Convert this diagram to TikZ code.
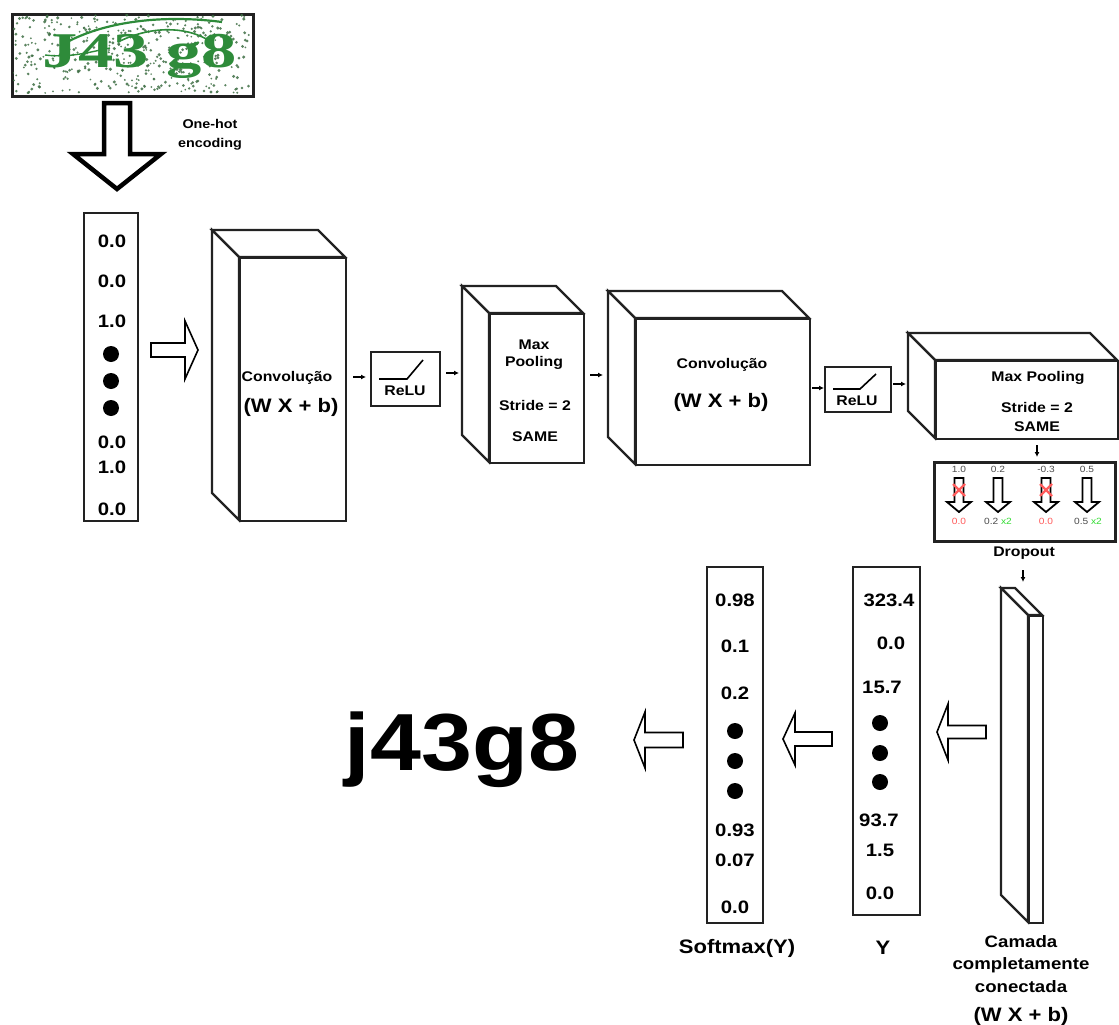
\documentclass[tikz,border=0pt]{standalone}
\usepackage{fontspec}
\setmainfont{Liberation Sans}[FakeStretch=1.13]
\newfontfamily\capfont{Liberation Serif}[FakeStretch=1.13]
\usetikzlibrary{arrows.meta,calc}
\definecolor{capgreen}{HTML}{2E8B3A}
\definecolor{capdot}{HTML}{3F6F45}
\definecolor{dred}{HTML}{FF5C5C}
\definecolor{dgreen}{HTML}{33DD33}
\definecolor{frame}{HTML}{222222}

% cuboid: name, x1, y1 (front top-left), x2, y2 (front bottom-right), depth
\newcommand\cub[6]{%
  \draw[box] (#2-#6,#3-#6) -- (#4-#6,#3-#6) -- (#4,#3) -- (#2,#3) -- cycle;
  \draw[box] (#2-#6,#3-#6) -- (#2,#3) -- (#2,#5) -- (#2-#6,#5-#6) -- cycle;
  \node[box, anchor=north west, inner sep=0, minimum width={#4-#2}, minimum height={#5-#3}] (#1) at (#2,#3) {};
}
% hollow arrow: [style] tipx, tipy, rotation, total length, head length, head half width, shaft half width
\newcommand\harrow[8][]{%
  \begin{scope}[shift={(#2,#3)}, rotate=#4]
    \draw[hollow,#1] (0,0) -- (-#6,#7) -- (-#6,#8) -- (-#5,#8) -- (-#5,-#8) -- (-#6,-#8) -- (-#6,-#7) -- cycle;
  \end{scope}}

\begin{document}
\begin{tikzpicture}[x=1pt,y=-1pt, line join=miter,
  box/.style={draw=frame, line width=2.2pt, fill=white},
  fs/.style={font=\bfseries\fontsize{#1}{#1}\selectfont},
  val/.style={fs=18, inner sep=0},
  lbl/.style={fs=14, inner sep=0, align=center},
  vecbox/.style={draw=frame, line width=2.4pt, fill=white, inner sep=0},
  smallarr/.style={-{Latex[length=5pt,width=5pt]}, line width=1.6pt},
  hollow/.style={draw=black, line width=1.6pt, fill=white},
  dot/.style={circle, fill=black, minimum size=16pt, inner sep=0},
  dval/.style={font=\fontsize{9}{9}\selectfont, text=black!70, inner sep=0},
  relubox/.style={draw=frame, line width=2.4pt, fill=white, inner sep=0},
]
\useasboundingbox (0,0) rectangle (1119,1025);

% ---------- captcha image ----------
\node[draw=frame, line width=2.6pt, fill=white, anchor=north west, inner sep=0,
      minimum width=241, minimum height=82] (captcha) at (11,13) {};
\begin{scope}
  \clip (13,15) rectangle (250,93);
  \pgfmathsetseed{42}
  \foreach \i in {1,...,420}{
    \pgfmathsetmacro\px{131+118*rand}
    \pgfmathsetmacro\py{54+39*rand}
    \pgfmathsetmacro\pr{0.9+0.8*rnd}
    \fill[capdot, opacity=0.85] (\px,\py) circle (\pr);
  }
  \draw[capgreen, line width=2.2pt] (60,46) .. controls (100,22) and (160,14) .. (222,22);
  \draw[capgreen, line width=1.6pt] (118,42) .. controls (150,26) and (185,26) .. (208,40);
  \draw[capgreen, line width=1.4pt] (45,55) .. controls (70,58) and (90,52) .. (110,48);
  \node[text=capgreen, font=\capfont\bfseries\fontsize{50}{50}\selectfont, inner sep=0,
        anchor=base, xscale=1.25, transform shape] (captxt) at (140,67) {J43 g8};
\end{scope}

% big down arrow + label
\harrow[line width=4.5pt]{117}{189}{-90}{86}{35}{44}{13}
\node[fs=12.7, align=center, inner sep=0] (onehot) at (210,135) {One-hot\\[6pt]encoding};

% ---------- input vector ----------
\node[vecbox, minimum width=54, minimum height=308] (invec) at (111,367) {};
\node[val] (i1) at (112,241) {0.0};
\node[val] (i2) at (112,281) {0.0};
\node[val] (i3) at (112,321) {1.0};
\node[dot] (id1) at (111,354) {};
\node[dot] (id2) at (111,381) {};
\node[dot] (id3) at (111,408) {};
\node[val] (i4) at (112,442) {0.0};
\node[val] (i5) at (112,467) {1.0};
\node[val] (i6) at (112,509) {0.0};

\harrow{198}{350}{0}{47}{13}{29}{7}

% ---------- conv 1 ----------
\cub{conv1}{239}{257}{345}{520}{27}
\node[lbl] (c1a) at (287,378) {Convolução};
\node[fs=19.5, inner sep=0] (c1b) at (291,407) {(W X + b)};

\draw[smallarr] (353,377) -- (366,377);

% ---------- relu 1 ----------
\node[relubox, minimum width=69, minimum height=54] (relu1) at (405.5,379) {};
\draw[line width=1.6pt] (379,379) -- (407,379) -- (423,360);
\node[lbl] (r1t) at (405,391) {ReLU};

\draw[smallarr] (446,373) -- (459,373);

% ---------- max pool 1 ----------
\cub{pool1}{489}{313}{583}{462}{27}
\node[lbl] (p1a) at (534,345) {Max};
\node[lbl] (p1b) at (534,363) {Pooling};
\node[lbl] (p1c) at (535,405) {Stride = 2};
\node[lbl] (p1d) at (535,437) {SAME};

\draw[smallarr] (590,375) -- (603,375);

% ---------- conv 2 ----------
\cub{conv2}{635}{318}{809}{464}{27}
\node[lbl] (c2a) at (722,365) {Convolução};
\node[fs=19.5, inner sep=0] (c2b) at (721,402) {(W X + b)};

\draw[smallarr] (812,388) -- (824,388);

% ---------- relu 2 ----------
\node[relubox, minimum width=66, minimum height=45] (relu2) at (858,389.5) {};
\draw[line width=1.6pt] (833,389) -- (860,389) -- (876,374);
\node[lbl] (r2t) at (857,401) {ReLU};

\draw[smallarr] (893,384) -- (906,384);

% ---------- max pool 2 ----------
\cub{pool2}{935}{360}{1117}{438}{27}
\node[lbl] (p2a) at (1038,378) {Max Pooling};
\node[lbl] (p2b) at (1037,407) {Stride = 2};
\node[lbl] (p2c) at (1037,427) {SAME};

\draw[smallarr] (1037,445) -- (1037,457);

% ---------- dropout ----------
\node[draw=frame, line width=2.6pt, fill=white, inner sep=0, minimum width=181, minimum height=79, anchor=north west] (drop) at (933,461) {};
\node[dval] (d1) at (959,469) {1.0};
\node[dval] (d2) at (998,469) {0.2};
\node[dval] (d3) at (1046,469) {-0.3};
\node[dval] (d4) at (1087,469) {0.5};
\foreach \cx in {959,998,1046,1087}{
  \harrow[line width=1.8pt]{\cx}{512}{-90}{34}{10}{12}{4.5}
}
\foreach \cx in {959,1046}{
  \draw[dred, line width=2.2pt] (\cx-6,484) -- (\cx+6,496) (\cx-6,496) -- (\cx+6,484);
}
\node[dval, text=dred] (e1) at (959,521) {0.0};
\node[dval] (e2) at (998,521) {0.2 \textcolor{dgreen}{x2}};
\node[dval, text=dred] (e3) at (1046,521) {0.0};
\node[dval] (e4) at (1088,521) {0.5 \textcolor{dgreen}{x2}};
\node[fs=14, inner sep=0] (droplbl) at (1024,553) {Dropout};

\draw[smallarr] (1023,570) -- (1023,582);

% ---------- fully connected ----------
\cub{fc}{1028}{615}{1042}{922}{27}
\node[fs=16.5, align=center, inner sep=0] (fclbl) at (1021,964) {Camada\\[6pt]completamente\\[6pt]conectada};
\node[fs=19.5, inner sep=0] (fcwx) at (1021,1016) {(W X + b)};

\harrow{937}{732}{180}{49}{11}{28}{6.5}

% ---------- Y vector ----------
\node[vecbox, minimum width=67, minimum height=348] (yvec) at (886.5,741) {};
\node[val] (y1) at (889,600) {323.4};
\node[val] (y2) at (891,643) {0.0};
\node[val] (y3) at (882,687) {15.7};
\node[dot] (yd1) at (880,723) {};
\node[dot] (yd2) at (880,753) {};
\node[dot] (yd3) at (880,782) {};
\node[val] (y4) at (879,820) {93.7};
\node[val] (y5) at (880,850) {1.5};
\node[val] (y6) at (880,893) {0.0};
\node[fs=19.5, inner sep=0] (ylbl) at (883,948) {Y};

\harrow{783}{739}{180}{49}{12}{26}{7}

% ---------- softmax vector ----------
\node[vecbox, minimum width=56, minimum height=356] (svec) at (735,745) {};
\node[val] (s1) at (735,600) {0.98};
\node[val] (s2) at (735,646) {0.1};
\node[val] (s3) at (735,693) {0.2};
\node[dot] (sd1) at (735,731) {};
\node[dot] (sd2) at (735,761) {};
\node[dot] (sd3) at (735,791) {};
\node[val] (s4) at (735,830) {0.93};
\node[val] (s5) at (735,860) {0.07};
\node[val] (s6) at (735,907) {0.0};
\node[fs=19.5, inner sep=0] (slbl) at (737,948) {Softmax(Y)};

\harrow{634}{740}{180}{49}{11}{28}{7.5}

% ---------- output ----------
\node[fs=81, anchor=base, inner sep=0] (out) at (462,770) {j43g8};
\end{tikzpicture}
\end{document}
